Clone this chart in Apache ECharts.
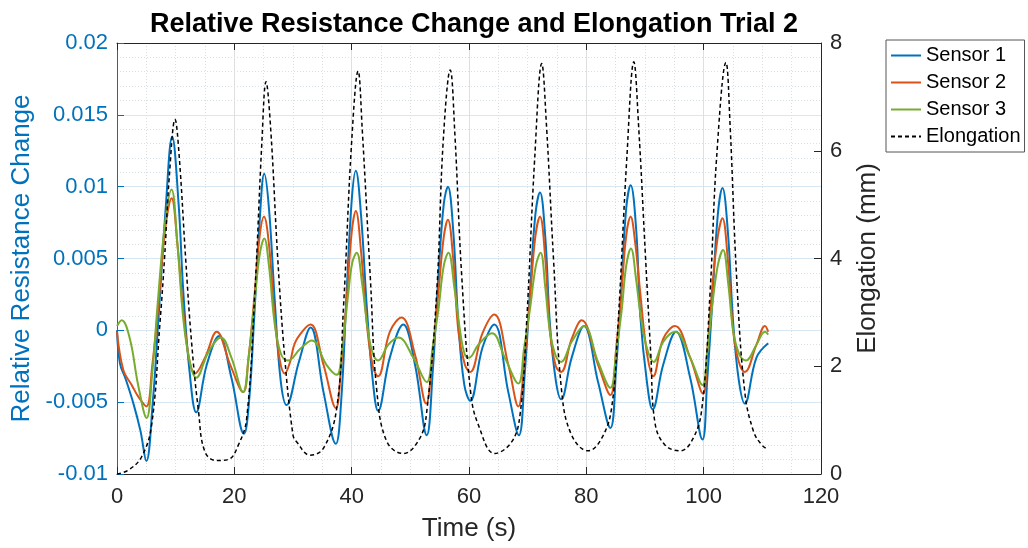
<!DOCTYPE html>
<html>
<head>
<meta charset="utf-8">
<title>Relative Resistance Change and Elongation Trial 2</title>
<script src="https://cdn.jsdelivr.net/npm/echarts/dist/echarts.min.js"></script>
<style>
  html, body { margin: 0; padding: 0; background: #ffffff; }
  #chart { width: 1028px; height: 548px; }
</style>
</head>
<body>
<div id="chart"></div>
<script>
// Time stamps (s) and relative resistance change for each sensor
const sensor1Time = [0, 0.5, 1.4, 2.8, 4.0, 5.0, 6.1, 7.0, 8.3, 9.4, 10.5, 11.3, 12.4, 13.5, 15.3, 17.4, 19.5, 21.65, 22.5, 23.4, 24.3, 25.1, 25.9, 26.9, 27.9, 28.9, 31.0, 33.0, 35.2, 37.3, 38.2, 39.15, 40.0, 40.7, 41.6, 42.6, 43.6, 44.5, 46.5, 48.8, 50.8, 52.8, 53.8, 54.8, 55.7, 56.4, 57.3, 58.2, 59.2, 60.2, 62.3, 64.3, 66.7, 68.5, 69.5, 70.4, 71.3, 72.1, 73.0, 73.8, 74.8, 75.7, 77.5, 79.6, 82.0, 84.1, 85.1, 86.0, 86.8, 87.55, 88.5, 89.2, 90.3, 91.3, 93.1, 95.3, 97.7, 99.8, 100.6, 101.4, 102.4, 103.2, 104.1, 105.05, 106.0, 107.0, 109.0, 111.0];
const sensor1 = [0.0, -0.0023, -0.0033, -0.0051, -0.0070, -0.0091, -0.0050, 0.0004, 0.0085, 0.0135, 0.0088, 0.0027, -0.0030, -0.0057, -0.0024, -0.0004, -0.0033, -0.0072, -0.0050, 0.0010, 0.0075, 0.0109, 0.0085, 0.0020, -0.0035, -0.0052, -0.0022, 0.0002, -0.0043, -0.0079, -0.0050, 0.0027, 0.0090, 0.0111, 0.0080, 0.0015, -0.0035, -0.0056, -0.0019, 0.0004, -0.0024, -0.0073, -0.0030, 0.0039, 0.0088, 0.0100, 0.0070, 0.0004, -0.0038, -0.0049, -0.0012, 0.0004, -0.0043, -0.0073, -0.0030, 0.0027, 0.0080, 0.0096, 0.0065, 0.0004, -0.0035, -0.0048, -0.0019, 0.0003, -0.0036, -0.0068, -0.0025, 0.0032, 0.0085, 0.0101, 0.0070, 0.0010, -0.0035, -0.0055, -0.0024, -0.0001, -0.0033, -0.0076, -0.0035, 0.0015, 0.0080, 0.0099, 0.0070, 0.0004, -0.0035, -0.0051, -0.0019, -0.0009];

const sensor2Time = [0, 1.1, 2.5, 3.6, 5.0, 6.0, 7.0, 8.2, 9.3, 10.3, 11.3, 12.3, 13.3, 15.0, 17.0, 19.3, 21.5, 22.4, 23.5, 24.3, 25.05, 25.9, 26.9, 27.8, 28.6, 29.5, 30.3, 31.75, 33.0, 35.2, 37.3, 38.2, 39.15, 40.0, 40.7, 41.6, 42.6, 43.6, 44.5, 46.5, 48.5, 50.8, 52.7, 53.8, 54.8, 55.7, 56.4, 57.3, 58.2, 59.3, 60.2, 62.3, 64.3, 66.7, 68.4, 69.5, 70.4, 71.3, 72.1, 73.0, 73.8, 74.8, 75.7, 77.5, 79.2, 82.0, 84.1, 85.1, 86.0, 86.8, 87.55, 88.3, 89.1, 90.3, 91.4, 93.1, 95.1, 97.7, 99.9, 100.6, 101.4, 102.4, 103.2, 104.1, 105.05, 106.0, 107.0, 109.0, 110.45, 111.0];
const sensor2 = [-0.0001, -0.0028, -0.0038, -0.0046, -0.0053, -0.0025, 0.0015, 0.0070, 0.0092, 0.0060, 0.0013, -0.0020, -0.0030, -0.0019, -0.0001, -0.0024, -0.0043, -0.0020, 0.0027, 0.0065, 0.0079, 0.0060, 0.0008, -0.0022, -0.0030, -0.0022, -0.0009, 0.0000, 0.0004, -0.0024, -0.0054, -0.0025, 0.0022, 0.0068, 0.0083, 0.0055, 0.0004, -0.0025, -0.0032, -0.0001, 0.0009, -0.0017, -0.0051, -0.0015, 0.0027, 0.0065, 0.0077, 0.0050, -0.0001, -0.0024, -0.0029, -0.0002, 0.0011, -0.0024, -0.0053, -0.0018, 0.0022, 0.0065, 0.0079, 0.0050, -0.0001, -0.0025, -0.0029, -0.0006, 0.0007, -0.0024, -0.0045, -0.0012, 0.0027, 0.0066, 0.0079, 0.0062, 0.0030, -0.0015, -0.0032, -0.0006, 0.0003, -0.0019, -0.0044, -0.0015, 0.0027, 0.0065, 0.0078, 0.0050, -0.0001, -0.0022, -0.0029, -0.0010, 0.0003, -0.0001];

const sensor3Time = [0, 0.8, 2.2, 3.6, 5.05, 6.0, 7.0, 8.2, 9.3, 10.3, 11.3, 12.4, 13.5, 15.6, 17.7, 19.5, 21.5, 22.4, 23.5, 24.3, 25.1, 25.9, 26.9, 28.0, 29.2, 31.2, 33.2, 35.7, 37.45, 38.4, 39.4, 40.1, 40.85, 41.8, 42.8, 43.6, 44.5, 46.25, 47.95, 50.5, 52.8, 53.8, 54.8, 55.7, 56.5, 57.5, 58.5, 59.3, 60.0, 61.6, 63.9, 66.1, 68.4, 69.4, 70.4, 71.4, 72.2, 73.0, 73.8, 74.8, 75.7, 77.5, 79.6, 82.0, 84.1, 85.1, 86.0, 86.8, 87.6, 88.5, 89.2, 90.3, 91.5, 93.1, 95.1, 97.7, 99.8, 100.6, 101.4, 102.4, 103.3, 104.2, 105.05, 106.1, 107.2, 109.0, 110.45, 111.0];
const sensor3 = [0.0003, 0.0007, -0.0006, -0.0038, -0.0061, -0.0030, 0.0022, 0.0075, 0.0098, 0.0060, 0.0008, -0.0022, -0.0033, -0.0015, -0.0005, -0.0019, -0.0043, -0.0020, 0.0022, 0.0052, 0.0064, 0.0045, 0.0004, -0.0017, -0.0021, -0.0013, -0.0007, -0.0024, -0.0031, -0.0012, 0.0025, 0.0047, 0.0054, 0.0032, -0.0001, -0.0016, -0.0021, -0.0010, -0.0005, -0.0019, -0.0036, -0.0012, 0.0015, 0.0045, 0.0054, 0.0030, -0.0001, -0.0017, -0.0019, -0.0010, -0.0002, -0.0019, -0.0037, -0.0012, 0.0015, 0.0045, 0.0054, 0.0030, -0.0001, -0.0018, -0.0022, -0.0008, 0.0003, -0.0022, -0.0040, -0.0015, 0.0013, 0.0045, 0.0057, 0.0035, 0.0012, -0.0012, -0.0022, -0.0008, -0.0001, -0.0019, -0.0038, -0.0015, 0.0015, 0.0045, 0.0056, 0.0032, -0.0001, -0.0017, -0.0021, -0.0010, -0.0001, -0.0003];

// Elongation (mm) of the specimen
const elongationTime = [0, 1.9, 4.2, 5.9, 7.3, 8.1, 8.9, 9.9, 10.6, 11.7, 12.7, 13.9, 15.0, 17.0, 19.0, 20.7, 22.1, 23.5, 24.7, 25.4, 26.2, 27.4, 28.6, 30.0, 30.6, 32.9, 35.2, 37.45, 38.6, 40.0, 41.1, 41.8, 43.2, 44.3, 46.0, 48.8, 51.6, 52.8, 54.5, 55.6, 56.8, 57.6, 58.75, 60.3, 61.6, 64.4, 67.3, 68.7, 69.8, 71.2, 72.4, 73.2, 74.4, 75.8, 77.5, 80.3, 82.6, 84.3, 85.4, 86.9, 88.1, 88.9, 90.1, 91.0, 91.7, 93.4, 96.0, 98.2, 99.7, 101.1, 102.2, 103.8, 104.5, 105.6, 107.0, 108.5, 109.9, 111.0];
const elongation = [0.0, 0.07, 0.32, 0.91, 2.77, 4.0, 5.5, 6.58, 5.9, 4.0, 2.46, 1.16, 0.41, 0.25, 0.27, 0.54, 1.03, 3.38, 6.17, 7.28, 6.4, 4.0, 2.15, 0.72, 0.6, 0.35, 0.48, 1.22, 3.08, 6.17, 7.48, 6.4, 3.6, 1.53, 0.6, 0.38, 0.66, 1.16, 3.38, 6.17, 7.5, 6.29, 3.69, 1.5, 0.91, 0.38, 0.6, 1.1, 2.77, 5.86, 7.62, 6.48, 4.0, 1.53, 0.72, 0.43, 0.66, 1.22, 2.77, 5.86, 7.65, 6.48, 4.0, 2.2, 0.95, 0.54, 0.43, 0.66, 1.22, 3.38, 5.86, 7.64, 6.48, 3.69, 1.53, 0.79, 0.54, 0.45];

// Axis tick labels
const timeTicks = ['0', '20', '40', '60', '80', '100', '120'];
const resistanceTicks = ['-0.01', '-0.005', '0', '0.005', '0.01', '0.015', '0.02'];
const elongationTicks = ['0', '2', '4', '6', '8'];

const FONT = '"Liberation Sans", Arial, Helvetica, sans-serif';
const BLUE = '#0072BD';
const ORANGE = '#D95319';
const GREEN = '#77AC30';
const AXIS = '#262626';

const pairs = (t, v) => t.map((x, i) => [x, v[i]]);

const chart = echarts.init(document.getElementById('chart'), null, { renderer: 'canvas' });

const xCommon = {
  type: 'value', min: 0, max: 120, interval: 20,
  axisLine: { show: true, onZero: false, lineStyle: { color: AXIS, width: 1 } },
  axisTick: { show: true, inside: true, length: 7, lineStyle: { color: AXIS } },
};

chart.setOption({
  animation: false,
  backgroundColor: '#ffffff',
  textStyle: { fontFamily: FONT },
  title: {
    text: 'Relative Resistance Change and Elongation Trial 2',
    left: 469, top: 6, textAlign: 'center',
    textStyle: { fontFamily: FONT, fontSize: 27, fontWeight: 'bold', color: '#000000' }
  },
  legend: {
    left: 886, top: 40, orient: 'vertical',
    itemWidth: 30, itemHeight: 14, itemGap: 6,
    padding: [5, 4, 5, 4],
    borderColor: '#555555', borderWidth: 1, backgroundColor: '#ffffff',
    itemStyle: { opacity: 0, borderWidth: 0 },
    textStyle: { fontFamily: FONT, fontSize: 20, color: '#000000', lineHeight: 21 },
    data: ['Sensor 1', 'Sensor 2', 'Sensor 3', 'Elongation']
  },
  grid: { left: 117, right: 207, top: 43, bottom: 74, containLabel: false },
  xAxis: [
    Object.assign({}, xCommon, {
      position: 'bottom',
      name: 'Time (s)', nameLocation: 'middle', nameGap: 42,
      nameTextStyle: { fontFamily: FONT, fontSize: 26, color: AXIS },
      axisLabel: {
        show: true, margin: 12, fontFamily: FONT, fontSize: 22, color: AXIS,
        formatter: (v, i) => timeTicks[i]
      },
      splitLine: { show: true, lineStyle: { color: '#dfdfdf', width: 1 } },
      minorTick: { show: false, splitNumber: 4 },
      minorSplitLine: { show: true, lineStyle: { color: '#dedede', width: 1, type: [1, 2] } }
    }),
    Object.assign({}, xCommon, {
      position: 'top',
      axisLabel: { show: false },
      splitLine: { show: false }
    })
  ],
  yAxis: [
    {
      type: 'value', position: 'left', min: -0.01, max: 0.02, interval: 0.005,
      name: 'Relative Resistance Change', nameLocation: 'middle', nameGap: 78,
      nameTextStyle: { fontFamily: FONT, fontSize: 26, color: BLUE },
      axisLine: { show: true, onZero: false, lineStyle: { color: BLUE, width: 1 } },
      axisTick: { show: true, inside: true, length: 7, lineStyle: { color: BLUE } },
      axisLabel: {
        margin: 9, fontFamily: FONT, fontSize: 22, color: BLUE,
        formatter: (v, i) => resistanceTicks[i]
      },
      splitLine: { show: true, lineStyle: { color: '#d7e8f4', width: 1 } },
      minorTick: { show: false, splitNumber: 5 },
      minorSplitLine: { show: true, lineStyle: { color: '#d6e2ea', width: 1, type: [1, 2] } }
    },
    {
      type: 'value', position: 'right', min: 0, max: 8, interval: 2,
      name: 'Elongation (mm)', nameLocation: 'middle', nameGap: 34,
      nameTextStyle: { fontFamily: FONT, fontSize: 26, color: AXIS },
      axisLine: { show: true, onZero: false, lineStyle: { color: AXIS, width: 1 } },
      axisTick: { show: true, inside: true, length: 7, lineStyle: { color: AXIS } },
      axisLabel: {
        margin: 9, fontFamily: FONT, fontSize: 22, color: AXIS,
        formatter: (v, i) => elongationTicks[i]
      },
      splitLine: { show: false }
    }
  ],
  series: [
    {
      name: 'Sensor 1', type: 'line', yAxisIndex: 0, data: pairs(sensor1Time, sensor1),
      smooth: 0.4, showSymbol: false, symbol: 'none', color: BLUE,
      lineStyle: { color: BLUE, width: 2 }
    },
    {
      name: 'Sensor 2', type: 'line', yAxisIndex: 0, data: pairs(sensor2Time, sensor2),
      smooth: 0.4, showSymbol: false, symbol: 'none', color: ORANGE,
      lineStyle: { color: ORANGE, width: 2 }
    },
    {
      name: 'Sensor 3', type: 'line', yAxisIndex: 0, data: pairs(sensor3Time, sensor3),
      smooth: 0.4, showSymbol: false, symbol: 'none', color: GREEN,
      lineStyle: { color: GREEN, width: 2 }
    },
    {
      name: 'Elongation', type: 'line', yAxisIndex: 1, data: pairs(elongationTime, elongation),
      smooth: 0.4, showSymbol: false, symbol: 'none', color: '#000000',
      lineStyle: { color: '#000000', width: 1.5, type: [4, 3] }
    }
  ]
});
</script>
</body>
</html>
